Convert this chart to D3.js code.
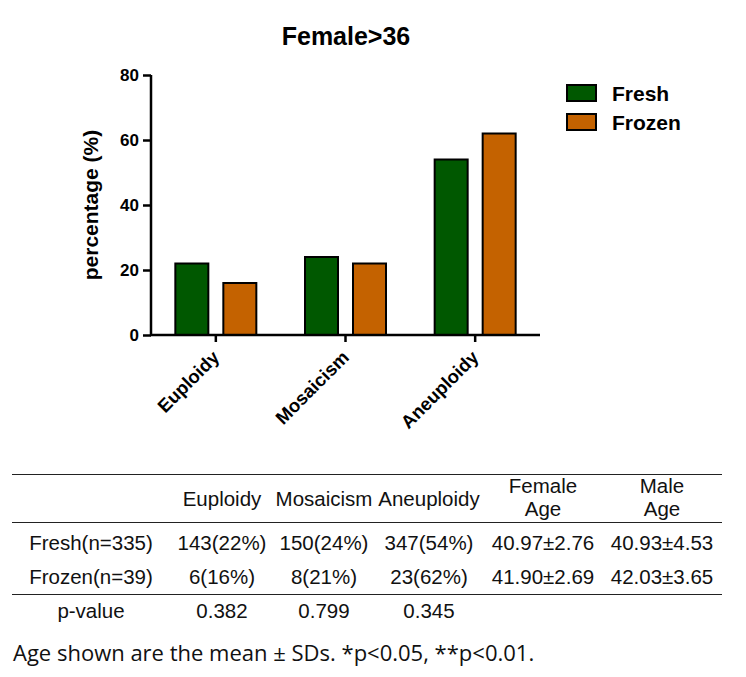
<!DOCTYPE html>
<html>
<head>
<meta charset="utf-8">
<script src="https://cdn.jsdelivr.net/npm/d3@7"></script>
<style>
  body { margin: 0; background: #fff; }
  svg { display: block; }
</style>
</head>
<body>
<svg id="chart" width="746" height="677"></svg>
<script>
const categories = ["Euploidy", "Mosaicism", "Aneuploidy"];
const series = ["Fresh", "Frozen"];
const freshValues = [22, 24, 54];
const frozenValues = [16, 22, 62];
const yTicks = [0, 20, 40, 60, 80];

const tableHeaders = ["Euploidy", "Mosaicism", "Aneuploidy", "Female\nAge", "Male\nAge"];
const tableRowLabels = ["Fresh(n=335)", "Frozen(n=39)", "p-value"];
const tableRows = [
  ["143(22%)", "150(24%)", "347(54%)", "40.97±2.76", "40.93±4.53"],
  ["6(16%)", "8(21%)", "23(62%)", "41.90±2.69", "42.03±3.65"],
  ["0.382", "0.799", "0.345", "", ""]
];
const footnote = "Age shown are the mean ± SDs. *p<0.05, **p<0.01.";

const colors = { Fresh: "#005800", Frozen: "#c46200" };
const svg = d3.select("#chart");
const boldFont = "'Liberation Sans', Arial, sans-serif";

const x = d3.scaleBand().domain(categories).range([151, 540]);
const y = d3.scaleLinear().domain([0, 80]).range([335, 75]);

const data = categories.map((c, i) => ({ cat: c, Fresh: freshValues[i], Frozen: frozenValues[i] }));
const offset = { Fresh: -24, Frozen: 24 };
const barW = 33;

// bars
const grp = svg.append("g");
series.forEach(s => {
  grp.selectAll(`rect.${s}`)
    .data(data)
    .enter()
    .append("rect")
    .attr("x", d => x(d.cat) + x.bandwidth() / 2 + offset[s] - barW / 2)
    .attr("y", d => y(d[s]))
    .attr("width", barW)
    .attr("height", d => y(0) - y(d[s]))
    .attr("fill", colors[s])
    .attr("stroke", "#000")
    .attr("stroke-width", 2);
});

// y axis
const yAxis = svg.append("g")
  .attr("transform", "translate(151,0)")
  .call(d3.axisLeft(y).tickValues(yTicks).tickSize(8).tickPadding(4));
yAxis.select(".domain").attr("stroke-width", 2.5).attr("d", `M0,${y(80)}V${y(0) + 1}`);
yAxis.selectAll(".tick line").attr("stroke-width", 2.5);
yAxis.selectAll(".tick text")
  .style("font-family", boldFont).style("font-size", "17px").style("font-weight", "bold").attr("fill", "#000");

// x axis
const xAxis = svg.append("g")
  .attr("transform", "translate(0,335)")
  .call(d3.axisBottom(x).tickSize(7).tickSizeOuter(0));
xAxis.select(".domain").attr("stroke-width", 2.5).attr("d", "M150,0H540");
xAxis.selectAll(".tick line").attr("stroke-width", 2.5);
xAxis.selectAll(".tick text")
  .style("font-family", boldFont).style("font-size", "18.5px").style("font-weight", "bold").attr("fill", "#000")
  .attr("text-anchor", "end")
  .attr("x", 0).attr("y", 0)
  .attr("dy", "0.35em")
  .attr("transform", "translate(0,19) rotate(-45)");

// y label
svg.append("text")
  .attr("transform", "translate(98,205) rotate(-90)")
  .attr("text-anchor", "middle")
  .style("font-family", boldFont).style("font-size", "21px").style("font-weight", "bold")
  .text("percentage (%)");

// title
svg.append("text")
  .attr("x", 346).attr("y", 45)
  .attr("text-anchor", "middle")
  .style("font-family", boldFont).style("font-size", "25px").style("font-weight", "bold")
  .text("Female>36");

// legend
const legend = svg.append("g").attr("transform", "translate(567,85)");
series.forEach((s, i) => {
  const row = legend.append("g").attr("transform", `translate(0,${i * 29})`);
  row.append("rect").attr("width", 29).attr("height", 16)
    .attr("fill", colors[s]).attr("stroke", "#000").attr("stroke-width", 2);
  row.append("text").attr("x", 45).attr("y", 16)
    .style("font-family", boldFont).style("font-size", "21px").style("font-weight", "bold")
    .text(s);
});

// table
const table = svg.append("g").style("font-family", boldFont).style("font-size", "20.5px").attr("fill", "#111");
const colX = [222, 324, 429, 543, 662];
const rowY = [550, 584, 618];
const labelX = 91;

[474.5, 522.5, 594.5].forEach(ly => {
  table.append("line").attr("x1", 12).attr("x2", 722).attr("y1", ly).attr("y2", ly).attr("stroke", "#222");
});

tableHeaders.forEach((h, i) => {
  const lines = h.split("\n");
  const t = table.append("text").attr("text-anchor", "middle");
  if (lines.length === 1) {
    t.attr("x", colX[i]).attr("y", 506).text(h);
  } else {
    lines.forEach((ln, j) => {
      t.append("tspan").attr("x", colX[i]).attr("y", 493 + j * 23).text(ln);
    });
  }
});

tableRowLabels.forEach((lab, r) => {
  table.append("text").attr("x", labelX).attr("y", rowY[r]).attr("text-anchor", "middle").text(lab);
  tableRows[r].forEach((v, c) => {
    table.append("text").attr("x", colX[c]).attr("y", rowY[r]).attr("text-anchor", "middle").text(v);
  });
});

// footnote
svg.append("text")
  .attr("x", 13).attr("y", 661)
  .style("font-family", "'Open Sans', 'Noto Sans', sans-serif").style("font-size", "22px")
  .attr("fill", "#111")
  .text(footnote);
</script>
</body>
</html>
